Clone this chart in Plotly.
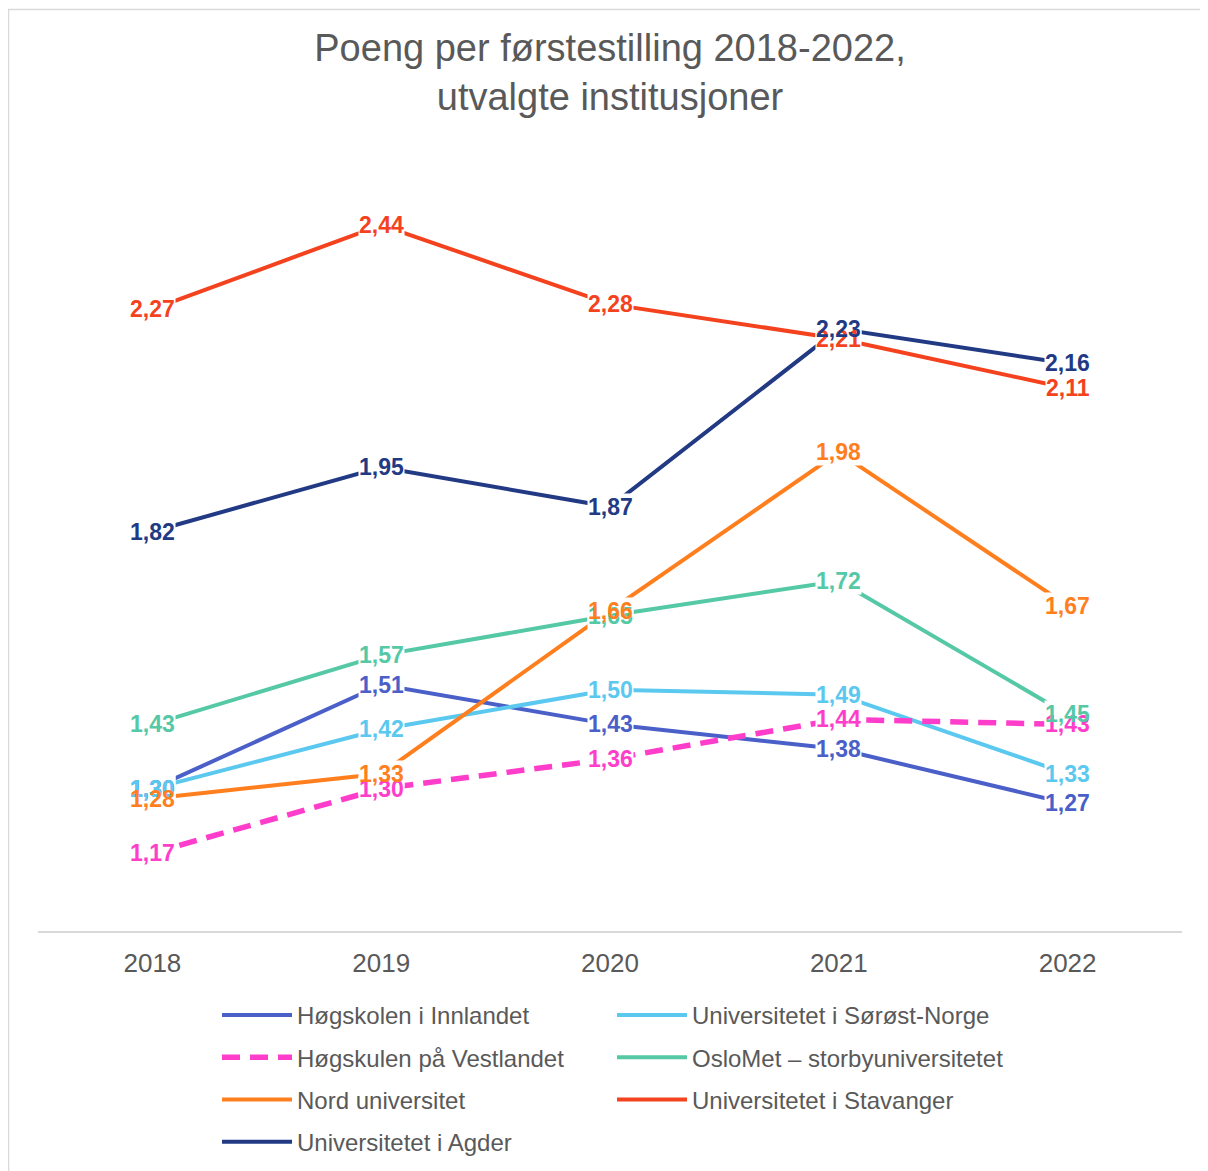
import plotly.graph_objects as go

years = ["2018", "2019", "2020", "2021", "2022"]

inn = [1.30, 1.51, 1.43, 1.38, 1.27]
usn = [1.30, 1.42, 1.50, 1.49, 1.33]
hvl = [1.17, 1.30, 1.36, 1.44, 1.43]
oslomet = [1.43, 1.57, 1.65, 1.72, 1.45]
nord = [1.28, 1.33, 1.66, 1.98, 1.67]
uis = [2.27, 2.44, 2.28, 2.21, 2.11]
uia = [1.82, 1.95, 1.87, 2.23, 2.16]

# name, values, colour, dash, width, legend column
series = [
    ("Høgskolen i Innlandet", inn, "#4A5FC8", "solid", 4, "legend"),
    ("Universitetet i Sørøst-Norge", usn, "#5BC8F0", "solid", 4, "legend2"),
    ("Høgskulen på Vestlandet", hvl, "#FF3DCB", "18px,10px", 5.5, "legend"),
    ("OsloMet – storbyuniversitetet", oslomet, "#55C8A5", "solid", 4, "legend2"),
    ("Nord universitet", nord, "#FF7F1E", "solid", 4, "legend"),
    ("Universitetet i Stavanger", uis, "#F5421E", "solid", 4, "legend2"),
    ("Universitetet i Agder", uia, "#223A84", "solid", 4, "legend"),
]

FONT = "Liberation Sans, Arial"

fig = go.Figure()
for i, (name, vals, color, dash, lw, leg) in enumerate(series):
    fig.add_trace(go.Scatter(x=years, y=vals, mode="lines", name=name,
                             legend=leg, legendgroup=str(i),
                             line=dict(color=color, width=lw, dash=dash)))

# data labels: first white boxes that cut the lines, then the texts on top
for layer in ("box", "text"):
    for name, vals, color, dash, lw, leg in series:
        for j, v in enumerate(vals):
            label = f"{v:.2f}".replace(".", ",")
            if layer == "box":
                fig.add_annotation(x=j, y=v, text=label, showarrow=False,
                                   bgcolor="white", borderpad=0,
                                   font=dict(family=FONT, size=23, color="white",
                                             weight="bold"))
            else:
                fig.add_annotation(x=j, y=v, text=label, showarrow=False,
                                   font=dict(family=FONT, size=23, color=color,
                                             weight="bold"))

# plot area in figure pixels: x 30..1174, y 132..923
PW, PH = 1144, 791

# chart border
fig.add_shape(type="rect", xref="paper", yref="paper",
              x0=-29.5 / PW, x1=(1195 - 30) / PW,
              y0=-0.4, y1=(923 - 1.5) / PH,
              line=dict(color="#D9D9D9", width=1.5), layer="below")

leg_common = dict(orientation="v", traceorder="grouped", tracegroupgap=8,
                  font=dict(family=FONT, size=24, color="#595959"),
                  itemwidth=70, bgcolor="rgba(0,0,0,0)",
                  xanchor="left", yanchor="top", yref="paper")

fig.update_layout(
    width=1208, height=1171,
    margin=dict(l=30, r=34, t=132, b=248),
    plot_bgcolor="white", paper_bgcolor="white",
    showlegend=True,
    title=dict(text="Poeng per førstestilling 2018-2022,<br>utvalgte institusjoner",
               x=0.5, xref="paper", y=1 - 52.5 / 1171, yanchor="middle",
               font=dict(family=FONT, size=38, color="#595959")),
    xaxis=dict(type="category", range=[-0.5, 4.5],
               showline=True, linecolor="#D9D9D9", linewidth=1.5, ticks="",
               showgrid=False, ticklabelstandoff=8,
               tickfont=dict(family=FONT, size=26, color="#595959")),
    yaxis=dict(range=[1.012, 2.612], showticklabels=False, showgrid=False,
               zeroline=False, showline=False),
    legend=dict(**leg_common, x=(209 - 30) / PW, y=-(985 - 923) / PH),
    legend2=dict(**leg_common, x=(604 - 30) / PW, y=-(985 - 923) / PH),
)

fig.write_html("out.html")
